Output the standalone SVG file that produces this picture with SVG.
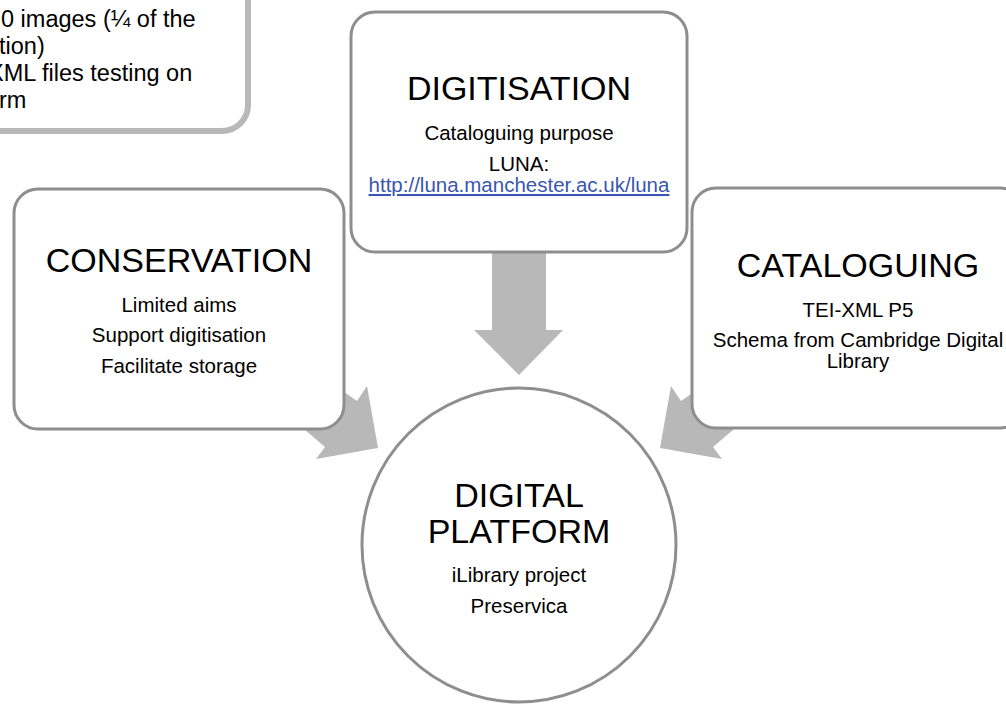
<svg xmlns="http://www.w3.org/2000/svg" width="1006" height="704" viewBox="0 0 1006 704">
<style>
.box{fill:#fff;stroke:#8e8e8e;stroke-width:3}
.hl{fill:#fff;stroke:#b8b8b8;stroke-width:6}
.arr{fill:#b8b8b8;stroke:none}
text{font-family:"Liberation Sans",Arial,Helvetica,sans-serif;fill:#000}
.t{font-size:34px;text-anchor:middle}
.s{font-size:20.5px;text-anchor:middle}
.n{font-size:23.5px}
.link{fill:#3a56b0;text-decoration:underline}
</style>
<rect width="1006" height="704" fill="#fff"/>
<g id="connectors">
<polygon class="arr" points="492,252 546,252 546,330 563,330 519,375 474,330 492,330"/>
<polygon class="arr" points="378,448 367,386 357,401 310,368 284,412 325,447 316,459"/>
<polygon class="arr" points="660,448 671,386 681,401 728,368 754,412 713,447 722,459"/>
</g>
<g id="node-notes">
<rect class="hl" x="-60" y="-40" width="308" height="171" rx="26"/>
<text class="n" x="1" y="27">0 images (¼ of the</text>
<text class="n" x="-1" y="54">tion)</text>
<text class="n" x="-12" y="81">XML files testing on</text>
<text class="n" x="-1" y="108">rm</text>
</g>
<g id="node-digitisation">
<rect class="box" x="351" y="12" width="336" height="240" rx="24"/>
<text class="t" x="519" y="100">DIGITISATION</text>
<text class="s" x="519" y="140">Cataloguing purpose</text>
<text class="s" x="519" y="171">LUNA:</text>
<text class="s link" x="519" y="192">http://luna.manchester.ac.uk/luna</text>
</g>
<g id="node-conservation">
<rect class="box" x="14" y="189" width="330" height="240" rx="24"/>
<text class="t" x="179" y="272">CONSERVATION</text>
<text class="s" x="179" y="312">Limited aims</text>
<text class="s" x="179" y="342">Support digitisation</text>
<text class="s" x="179" y="373">Facilitate storage</text>
</g>
<g id="node-cataloguing">
<rect class="box" x="692" y="188" width="332" height="240" rx="24"/>
<text class="t" x="858" y="277">CATALOGUING</text>
<text class="s" x="858" y="317">TEI-XML P5</text>
<text class="s" x="858" y="347">Schema from Cambridge Digital</text>
<text class="s" x="858" y="368">Library</text>
</g>
<g id="node-platform">
<circle cx="519" cy="545" r="157" fill="#fff" stroke="#8e8e8e" stroke-width="3"/>
<text class="t" x="519" y="507">DIGITAL</text>
<text class="t" x="519" y="543">PLATFORM</text>
<text class="s" x="519" y="582">iLibrary project</text>
<text class="s" x="519" y="613">Preservica</text>
</g>
</svg>
